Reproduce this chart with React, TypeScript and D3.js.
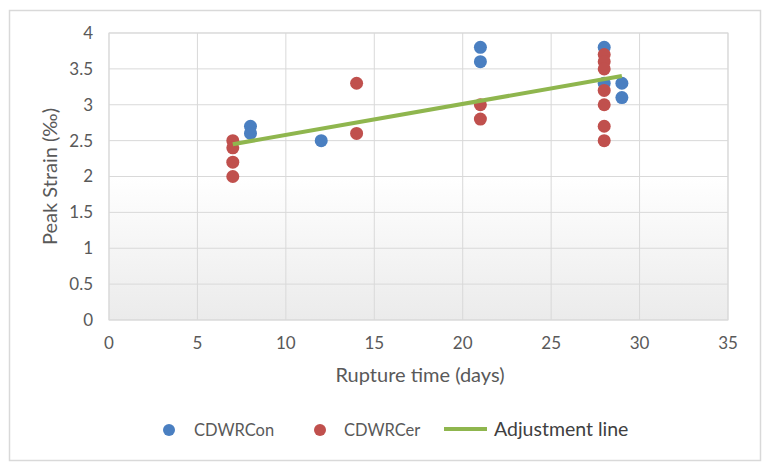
import { useMemo } from "react";
import * as d3 from "d3";

// Rupture time (days) vs peak strain (‰)
const CON_DAYS = [8, 8, 12, 21, 21, 28, 28, 29, 29];
const CON_STRAIN = [2.7, 2.6, 2.5, 3.8, 3.6, 3.8, 3.3, 3.3, 3.1];

const CER_DAYS = [7, 7, 7, 7, 14, 14, 21, 21, 28, 28, 28, 28, 28, 28, 28];
const CER_STRAIN = [2.5, 2.4, 2.2, 2.0, 3.3, 2.6, 3.0, 2.8, 3.7, 3.6, 3.5, 3.2, 3.0, 2.7, 2.5];

const FIT_DAYS = [7, 29];
const FIT_STRAIN = [2.45, 3.4];

const X_TICKS = [0, 5, 10, 15, 20, 25, 30, 35];
const Y_TICKS = [0, 0.5, 1, 1.5, 2, 2.5, 3, 3.5, 4];

const LEGEND = ["CDWRCon", "CDWRCer", "Adjustment line"];

const BLUE = "#4a7fc1";
const RED = "#c0504d";
const GREEN = "#8fb64e";
const TEXT = "#595959";
const FONT = "Lato, 'Open Sans', sans-serif";

export default function App() {
  const width = 770;
  const height = 468;
  const plot = { left: 109, right: 728, top: 33, bottom: 320 };

  const x = useMemo(
    () => d3.scaleLinear().domain([0, 35]).range([plot.left, plot.right]),
    []
  );
  const y = useMemo(
    () => d3.scaleLinear().domain([0, 4]).range([plot.bottom, plot.top]),
    []
  );

  const line = d3
    .line<number>()
    .x((_, i) => x(FIT_DAYS[i]))
    .y((d) => y(d));

  const con = CON_DAYS.map((d, i) => ({ d, s: CON_STRAIN[i] }));
  const cer = CER_DAYS.map((d, i) => ({ d, s: CER_STRAIN[i] }));

  return (
    <svg
      width={width}
      height={height}
      style={{ position: "absolute", left: 0, top: 0, background: "#fff" }}
      fontFamily={FONT}
    >
      <defs>
        <linearGradient id="plotBg" x1="0" y1="0" x2="0" y2="1">
          <stop offset="0%" stopColor="#ffffff" />
          <stop offset="50%" stopColor="#ffffff" />
          <stop offset="100%" stopColor="#ebebeb" />
        </linearGradient>
      </defs>
      <rect x={9.5} y={10.5} width={751} height={450} fill="#fff" stroke="#d9d9d9" strokeWidth={1.5} />
      <rect
        x={plot.left}
        y={plot.top}
        width={plot.right - plot.left}
        height={plot.bottom - plot.top}
        fill="url(#plotBg)"
        stroke="#d9d9d9"
      />
      {Y_TICKS.map((t) => (
        <line key={"gy" + t} x1={plot.left} x2={plot.right} y1={y(t)} y2={y(t)} stroke="#d9d9d9" />
      ))}
      {X_TICKS.map((t) => (
        <line key={"gx" + t} x1={x(t)} x2={x(t)} y1={plot.top} y2={plot.bottom} stroke="#d9d9d9" />
      ))}
      {Y_TICKS.map((t) => (
        <text key={"ty" + t} x={93} y={y(t)} dy="0.35em" textAnchor="end" fontSize={17} fill={TEXT}>
          {t}
        </text>
      ))}
      {X_TICKS.map((t) => (
        <text key={"tx" + t} x={x(t)} y={349} textAnchor="middle" fontSize={17} fill={TEXT}>
          {t}
        </text>
      ))}
      <text x={420} y={382} textAnchor="middle" fontSize={20} fill={TEXT}>
        Rupture time (days)
      </text>
      <text
        transform={`translate(57,${(plot.top + plot.bottom) / 2}) rotate(-90)`}
        textAnchor="middle"
        fontSize={20}
        fill={TEXT}
      >
        Peak Strain (‰)
      </text>

      {con.map((p, i) => (
        <circle key={"c" + i} cx={x(p.d)} cy={y(p.s)} r={6.5} fill={BLUE} />
      ))}
      {cer.map((p, i) => (
        <circle key={"r" + i} cx={x(p.d)} cy={y(p.s)} r={6.5} fill={RED} />
      ))}
      <path d={line(FIT_STRAIN) ?? ""} fill="none" stroke={GREEN} strokeWidth={4} />

      <g>
        <circle cx={169} cy={430} r={6} fill={BLUE} />
        <text x={194} y={430} dy="0.35em" fontSize={16.5} fill={TEXT}>
          {LEGEND[0]}
        </text>
        <circle cx={320} cy={430} r={6} fill={RED} />
        <text x={344} y={430} dy="0.35em" fontSize={16.5} fill={TEXT}>
          {LEGEND[1]}
        </text>
        <line x1={444} x2={487} y1={429} y2={429} stroke={GREEN} strokeWidth={4} />
        <text x={494} y={429} dy="0.35em" fontSize={19.5} fill="#404040">
          {LEGEND[2]}
        </text>
      </g>
    </svg>
  );
}
